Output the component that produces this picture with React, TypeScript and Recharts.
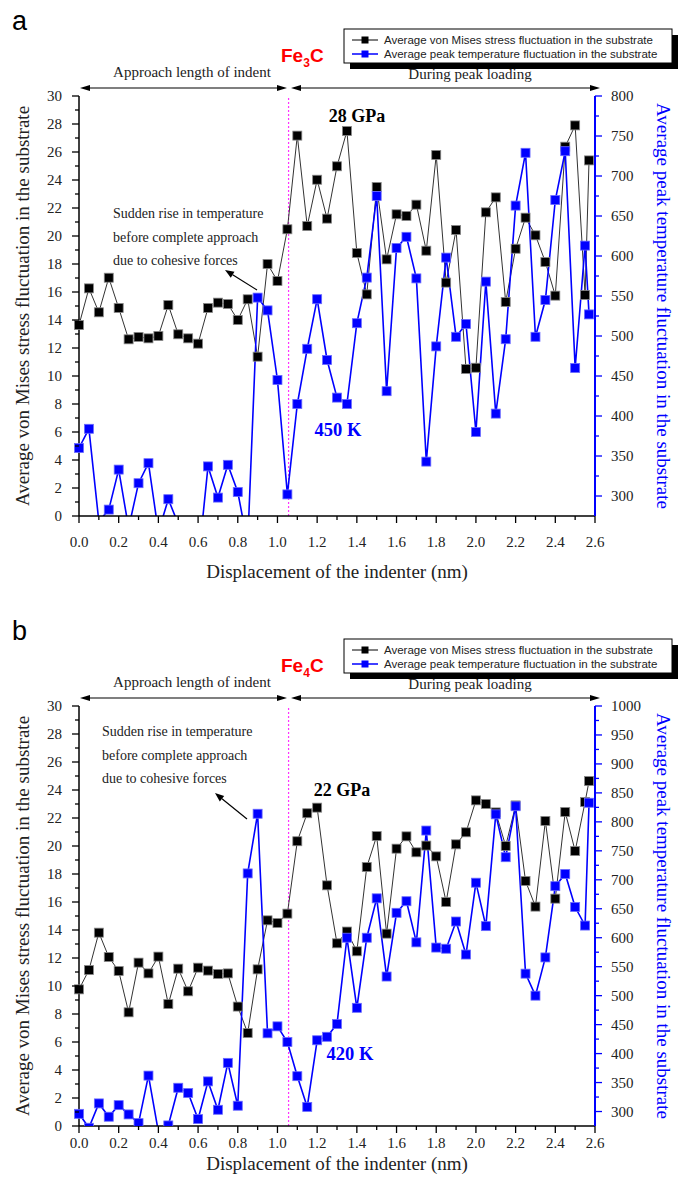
import React from 'react';
import { ComposedChart, Line, XAxis, YAxis, ReferenceLine } from 'recharts';

// indenter displacement (nm) at each sample
const positions = [
    0, 0.05, 0.1, 0.15, 0.2, 0.25, 0.3, 0.35, 0.4, 0.45, 0.5, 0.55, 0.6, 0.65, 0.7, 0.75, 0.8, 0.85,
    0.9, 0.95, 1.0, 1.05, 1.1, 1.15, 1.2, 1.25, 1.3, 1.35, 1.4, 1.45, 1.5, 1.55, 1.6, 1.65, 1.7, 1.75,
    1.8, 1.85, 1.9, 1.95, 2.0, 2.05, 2.1, 2.15, 2.2, 2.25, 2.3, 2.35, 2.4, 2.45, 2.5, 2.55, 2.57
];

// Fe3C
const stressFe3C = [
    13.64, 16.26, 14.55, 17.02, 14.86, 12.62, 12.79, 12.69, 12.86, 15.07, 12.98, 12.69, 12.31, 14.86,
    15.24, 15.14, 14.0, 15.48, 11.38, 18.0, 16.79, 20.48, 27.17, 20.71, 24.02, 21.24, 24.98, 27.5,
    18.79, 15.83, 23.5, 18.33, 21.55, 21.43, 22.24, 18.95, 25.79, 16.67, 20.43, 10.5, 10.59, 21.69,
    22.76, 15.29, 19.09, 21.31, 20.05, 18.14, 15.74, 26.38, 27.9, 15.79, 25.4
];
const tempFe3C = [
    360, 384, 268, 283, 333, 260, 316, 341, 255, 296, 265, 235, 215, 337, 298, 339, 305, 240,
    548, 532, 445, 302, 415, 484, 546, 470, 423, 415, 516, 573, 675, 431, 610, 624, 572, 343,
    487, 598, 499, 515, 380, 568, 403, 496, 663, 729, 499, 545, 670, 731, 460, 613, 527
];

// Fe4C
const stressFe4C = [
    9.76, 11.14, 13.81, 12.07, 11.07, 8.12, 11.67, 10.9, 12.1, 8.71, 11.24, 9.62, 11.31, 11.1,
    10.86, 10.9, 8.53, 6.64, 11.19, 14.69, 14.5, 15.17, 20.34, 22.34, 22.74, 17.19, 13.05, 13.89,
    12.48, 18.5, 20.71, 13.74, 19.81, 20.69, 19.55, 20.03, 19.26, 16.0, 20.12, 20.98, 23.26, 23.0,
    22.4, 20.0, 22.9, 17.5, 15.67, 21.79, 16.24, 22.43, 19.64, 23.14, 24.64
];
const tempFe4C = [
    296, 272, 314, 291, 311, 295, 280, 362, 265, 276, 341, 332, 287, 352, 303, 384, 310, 711,
    814, 435, 447, 420, 361, 308, 423, 429, 451, 600, 479, 600, 668, 533, 643, 663, 592, 785,
    583, 581, 628, 571, 695, 620, 813, 739, 827, 538, 500, 566, 689, 710, 653, 621, 833
];

const xTicks = [0, 0.1, 0.2, 0.3, 0.4, 0.5, 0.6, 0.7, 0.8, 0.9, 1.0, 1.1, 1.2, 1.3, 1.4, 1.5, 1.6, 1.7, 1.8, 1.9, 2.0, 2.1, 2.2, 2.3, 2.4, 2.5, 2.6];
const stressTicks = [0, 1, 2, 3, 4, 5, 6, 7, 8, 9, 10, 11, 12, 13, 14, 15, 16, 17, 18, 19, 20, 21, 22, 23, 24, 25, 26, 27, 28, 29, 30];
const tempTicksA = [300, 325, 350, 375, 400, 425, 450, 475, 500, 525, 550, 575, 600, 625, 650, 675, 700, 725, 750, 775, 800];
const tempTicksB = [300, 325, 350, 375, 400, 425, 450, 475, 500, 525, 550, 575, 600, 625, 650, 675, 700, 725, 750, 775, 800, 825, 850, 875, 900, 925, 950, 975, 1000];

const SERIF = '"Liberation Serif", "Times New Roman", serif';
const SANS = '"Liberation Sans", Arial, sans-serif';
const BLUE = '#0000ff';

const onStep = (v: number, step: number) => Math.abs(v / step - Math.round(v / step)) < 1e-6;

const bottomTick = (labelDy: number) => (props: any) => {
    const { x, y, payload } = props;
    const major = onStep(payload.value, 0.2);
    return (
        <g>
            <line x1={x} y1={y} x2={x} y2={y + (major ? 7 : 4)} stroke="#000" strokeWidth={1.3} />
            {major && (
                <text x={x} y={y + labelDy} textAnchor="middle" fontFamily={SERIF} fontSize={15} fill="#222">
                    {payload.value.toFixed(1)}
                </text>
            )}
        </g>
    );
};

const topTick = (props: any) => {
    const { x, y, payload } = props;
    const major = onStep(payload.value, 0.2);
    return <line x1={x} y1={y} x2={x} y2={y + (major ? 7 : 4)} stroke="#000" strokeWidth={1.3} />;
};

const leftTick = (props: any) => {
    const { x, y, payload } = props;
    const major = onStep(payload.value, 2);
    return (
        <g>
            <line x1={x} y1={y} x2={x - (major ? 7 : 4)} y2={y} stroke="#000" strokeWidth={1.3} />
            {major && (
                <text x={x - 17} y={y + 5} textAnchor="end" fontFamily={SERIF} fontSize={15} fill="#222">
                    {payload.value}
                </text>
            )}
        </g>
    );
};

const rightTick = (props: any) => {
    const { x, y, payload } = props;
    const major = onStep(payload.value, 50);
    return (
        <g>
            <line x1={x} y1={y} x2={x + (major ? 7 : 4)} y2={y} stroke={BLUE} strokeWidth={1.3} />
            {major && (
                <text x={x + 16} y={y + 5} textAnchor="start" fontFamily={SERIF} fontSize={15} fill="#222">
                    {payload.value}
                </text>
            )}
        </g>
    );
};

const squareDot = (fill: string, stroke: string) => (props: any) => {
    const { cx, cy, index } = props;
    if (cx == null || cy == null) return <g key={index} />;
    return <rect key={index} x={cx - 4.5} y={cy - 4.5} width={9} height={9} fill={fill} stroke={stroke} strokeWidth={0.8} />;
};

interface PanelProps {
    stress: number[];
    temp: number[];
    tempMax: number;
    tempTicks: number[];
    height: number;
    xAxisHeight: number;
    labelDy: number;
}

const Panel: React.FC<PanelProps> = ({ stress, temp, tempMax, tempTicks, height, xAxisHeight, labelDy }) => {
    const rows = positions.map((x, i) => ({ x, stress: stress[i], temp: temp[i] }));
    return (
        <ComposedChart width={686} height={height} data={rows} margin={{ top: 96, right: 0, bottom: 0, left: 0 }}>
            <XAxis
                xAxisId="bottom"
                type="number"
                dataKey="x"
                domain={[0, 2.6]}
                ticks={xTicks}
                interval={0}
                height={xAxisHeight}
                tickSize={0}
                tickMargin={0}
                tickLine={false}
                axisLine={{ stroke: '#000', strokeWidth: 1.5 }}
                tick={bottomTick(labelDy)}
            />
            <XAxis
                xAxisId="top"
                orientation="top"
                type="number"
                dataKey="x"
                domain={[0, 2.6]}
                ticks={xTicks}
                interval={0}
                height={0}
                tickSize={0}
                tickMargin={0}
                tickLine={false}
                axisLine={{ stroke: '#000', strokeWidth: 1.5 }}
                tick={topTick}
            />
            <YAxis
                yAxisId="stress"
                type="number"
                domain={[0, 30]}
                ticks={stressTicks}
                interval={0}
                width={79}
                tickSize={0}
                tickMargin={0}
                tickLine={false}
                axisLine={{ stroke: '#000', strokeWidth: 1.5 }}
                tick={leftTick}
            />
            <YAxis
                yAxisId="temp"
                orientation="right"
                type="number"
                domain={[275, tempMax]}
                allowDataOverflow
                ticks={tempTicks}
                interval={0}
                width={91}
                tickSize={0}
                tickMargin={0}
                tickLine={false}
                axisLine={{ stroke: BLUE, strokeWidth: 2 }}
                tick={rightTick}
            />
            <ReferenceLine x={1.056} xAxisId="bottom" yAxisId="stress" stroke="#ff33ff" strokeDasharray="2 2" strokeWidth={1.2} />
            <Line
                xAxisId="bottom"
                yAxisId="stress"
                dataKey="stress"
                type="linear"
                stroke="#333"
                strokeWidth={1}
                dot={squareDot('#000', '#888')}
                isAnimationActive={false}
            />
            <Line
                xAxisId="bottom"
                yAxisId="temp"
                dataKey="temp"
                type="linear"
                stroke={BLUE}
                strokeWidth={1.6}
                dot={squareDot(BLUE, '#6a6aff')}
                isAnimationActive={false}
            />
        </ComposedChart>
    );
};

const Arrow = ({ x1, y1, x2, y2 }: { x1: number; y1: number; x2: number; y2: number }) => {
    // head at (x2, y2)
    const dx = x2 - x1;
    const dy = y2 - y1;
    const len = Math.sqrt(dx * dx + dy * dy);
    const ux = dx / len;
    const uy = dy / len;
    const hl = 9;
    const hw = 3.5;
    const bx = x2 - ux * hl;
    const by = y2 - uy * hl;
    const pts = `${x2},${y2} ${bx - uy * hw},${by + ux * hw} ${bx + uy * hw},${by - ux * hw}`;
    return (
        <g>
            <line x1={x1} y1={y1} x2={bx} y2={by} stroke="#000" strokeWidth={1.2} />
            <polygon points={pts} fill="#000" />
        </g>
    );
};

const DoubleArrow = ({ xa, xb, y }: { xa: number; xb: number; y: number }) => (
    <g>
        <line x1={xa + 8} y1={y} x2={xb - 8} y2={y} stroke="#000" strokeWidth={1.2} />
        <polygon points={`${xa},${y} ${xa + 10},${y - 3} ${xa + 10},${y + 3}`} fill="#000" />
        <polygon points={`${xb},${y} ${xb - 10},${y - 3} ${xb - 10},${y + 3}`} fill="#000" />
    </g>
);

interface DecorProps {
    dy: number;
    letter: string;
    sub: string;
    gpa: string;
    gpaPos: [number, number];
    kelvin: string;
    kPos: [number, number];
    notePos: [number, number];
    arrow: [number, number, number, number];
    xTitleY: number;
    plotMid: number;
}

const Decor: React.FC<DecorProps> = ({ dy, letter, sub, gpa, gpaPos, kelvin, kPos, notePos, arrow, xTitleY, plotMid }) => (
    <g>
        <text x={12} y={30 + dy} fontFamily={SANS} fontSize={27} fill="#000">{letter}</text>

        {/* legend */}
        <rect x={350} y={35 + dy} width={328} height={34} fill="#000" />
        <rect x={344} y={29 + dy} width={328} height={34} fill="#fff" stroke="#000" strokeWidth={1} />
        <line x1={352} y1={40 + dy} x2={378} y2={40 + dy} stroke="#000" strokeWidth={1} />
        <rect x={361.5} y={36.5 + dy} width={7} height={7} fill="#000" />
        <text x={384} y={44 + dy} fontFamily={SANS} fontSize={11.5} fill="#222">
            Average von Mises stress fluctuation in the substrate
        </text>
        <line x1={352} y1={54 + dy} x2={378} y2={54 + dy} stroke={BLUE} strokeWidth={1.5} />
        <rect x={361.5} y={50.5 + dy} width={7} height={7} fill={BLUE} />
        <text x={384} y={58 + dy} fontFamily={SANS} fontSize={11.5} fill="#222">
            Average peak temperature fluctuation in the substrate
        </text>

        <text x={281} y={62 + dy} fontFamily={SANS} fontWeight="bold" fontSize={19} fill="#ff0000">
            Fe<tspan fontSize={12} dy={5}>{sub}</tspan><tspan fontSize={19} dy={-5}>C</tspan>
        </text>

        <text x={192} y={77 + dy} textAnchor="middle" fontFamily={SERIF} fontSize={15} fill="#222">Approach length of indent</text>
        <text x={470} y={79 + dy} textAnchor="middle" fontFamily={SERIF} fontSize={15} fill="#222">During peak loading</text>
        <DoubleArrow xa={80} xb={287} y={88 + dy} />
        <DoubleArrow xa={291} xb={600} y={88 + dy} />

        <text x={gpaPos[0]} y={gpaPos[1]} textAnchor="middle" fontFamily={SERIF} fontWeight="bold" fontSize={18} fill="#000">{gpa}</text>
        <text x={kPos[0]} y={kPos[1]} textAnchor="middle" fontFamily={SERIF} fontWeight="bold" fontSize={18.5} fill={BLUE}>{kelvin}</text>

        <text fontFamily={SERIF} fontSize={14} fill="#222">
            <tspan x={notePos[0]} y={notePos[1]}>Sudden rise in temperature</tspan>
            <tspan x={notePos[0]} y={notePos[1] + 23.5}>before complete approach</tspan>
            <tspan x={notePos[0]} y={notePos[1] + 47}>due to cohesive forces</tspan>
        </text>
        <Arrow x1={arrow[0]} y1={arrow[1]} x2={arrow[2]} y2={arrow[3]} />

        <text x={337} y={xTitleY} textAnchor="middle" fontFamily={SERIF} fontSize={19} fill="#222">
            Displacement of the indenter (nm)
        </text>
        <text
            x={22}
            y={plotMid}
            transform={`rotate(-90 22 ${plotMid})`}
            textAnchor="middle"
            dominantBaseline="central"
            fontFamily={SERIF}
            fontSize={19}
            fill="#222"
        >
            Average von Mises stress fluctuation in the substrate
        </text>
        <text
            x={663}
            y={plotMid}
            transform={`rotate(90 663 ${plotMid})`}
            textAnchor="middle"
            dominantBaseline="central"
            fontFamily={SERIF}
            fontSize={19}
            fill={BLUE}
        >
            Average peak temperature fluctuation in the substrate
        </text>
    </g>
);

export default function App() {
    return (
        <div style={{ position: 'absolute', left: 0, top: 0, width: 686, height: 1189, background: '#fff', overflow: 'hidden' }}>
            <div style={{ position: 'absolute', left: 0, top: 0 }}>
                <Panel stress={stressFe3C} temp={tempFe3C} tempMax={800} tempTicks={tempTicksA} height={600} xAxisHeight={84} labelDy={31} />
            </div>
            <div style={{ position: 'absolute', left: 0, top: 610 }}>
                <Panel stress={stressFe4C} temp={tempFe4C} tempMax={1000} tempTicks={tempTicksB} height={579} xAxisHeight={63} labelDy={22} />
            </div>
            <svg width={686} height={1189} style={{ position: 'absolute', left: 0, top: 0, pointerEvents: 'none' }}>
                <Decor
                    dy={0}
                    letter="a"
                    sub="3"
                    gpa="28 GPa"
                    gpaPos={[357, 122]}
                    kelvin="450 K"
                    kPos={[338, 436]}
                    notePos={[113, 218]}
                    arrow={[257, 290, 225, 270]}
                    xTitleY={578}
                    plotMid={306}
                />
                <Decor
                    dy={610}
                    letter="b"
                    sub="4"
                    gpa="22 GPa"
                    gpaPos={[342, 796]}
                    kelvin="420 K"
                    kPos={[350, 1060]}
                    notePos={[102, 736]}
                    arrow={[247, 819, 215, 793]}
                    xTitleY={1170}
                    plotMid={916}
                />
            </svg>
        </div>
    );
}
